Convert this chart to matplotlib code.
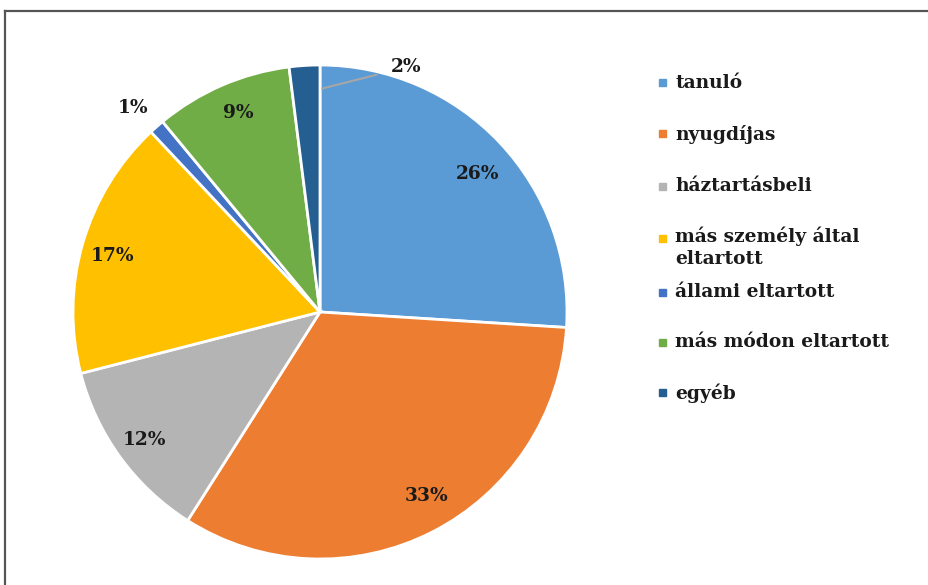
import numpy as np
import matplotlib
matplotlib.use("Agg")
import matplotlib.pyplot as plt
from matplotlib.lines import Line2D
from matplotlib.patches import Rectangle

categories = ["tanuló", "nyugdíjas", "háztartásbeli", "más személy által\neltartott",
              "állami eltartott", "más módon eltartott", "egyéb"]
values = [26, 33, 12, 17, 1, 9, 2]
colors = ["#5B9BD5", "#ED7D31", "#B4B4B4", "#FFC000", "#4472C4", "#70AD47", "#255E91"]
label_radius = [0.85, 0.86, 0.88, 0.87, 1.12, 0.87, 1.05]
label_angle_shift = [-2, 3, 0, 1, 1, -1, -23]

W, H = 929, 585
fig = plt.figure(figsize=(W / 100, H / 100), dpi=100)
fig.patch.set_facecolor("white")

cx, cy, R = 320, 312, 247
ax = fig.add_axes([(cx - R) / W, (H - cy - R) / H, 2 * R / W, 2 * R / H])
wedges, _ = ax.pie(values, colors=colors, startangle=90, counterclock=False,
                   wedgeprops=dict(edgecolor="white", linewidth=2), radius=1.0)
ax.set_xlim(-1, 1)
ax.set_ylim(-1, 1)
ax.set_aspect("auto")
ax.axis("off")

FS = 13.4
font = dict(family="DejaVu Serif", fontsize=FS, color="#1a1a1a", fontweight="bold")
for w, v, r, s in zip(wedges, values, label_radius, label_angle_shift):
    mid = np.deg2rad((w.theta1 + w.theta2) / 2 + s)
    x, y = r * np.cos(mid), r * np.sin(mid)
    ax.text(x, y, f"{v}%", ha="center", va="center", **font)
    if r > 1.0 and v == 2:
        ax.plot([0.01, x - 0.12], [0.905, y - 0.03], color="#A6A6A6", lw=1.5)

# legend drawn manually
leg_x = 663 / W
text_x = 675 / W
y_tops = [83, 134, 186, 238, 292, 342, 393]
for lab, col, yt in zip(categories, colors, y_tops):
    fy = 1 - yt / H
    fig.patches.append(Rectangle((leg_x - 3.5 / W, fy - 3.5 / H), 7 / W, 7 / H,
                                 transform=fig.transFigure, color=col))
    if "\n" in lab:
        fig.text(text_x, fy + 12 / H, lab, ha="left", va="top", linespacing=1.35, **font)
    else:
        fig.text(text_x, fy, lab, ha="left", va="center", **font)

# frame border
fig.add_artist(Line2D([5.5 / W, 5.5 / W], [0, 1 - 10.5 / H], color="#555555", lw=1.6,
                      transform=fig.transFigure))
fig.add_artist(Line2D([5.5 / W, 1], [1 - 10.5 / H, 1 - 10.5 / H], color="#555555", lw=1.6,
                      transform=fig.transFigure))

fig.savefig("out.png", dpi=100, facecolor="white")
